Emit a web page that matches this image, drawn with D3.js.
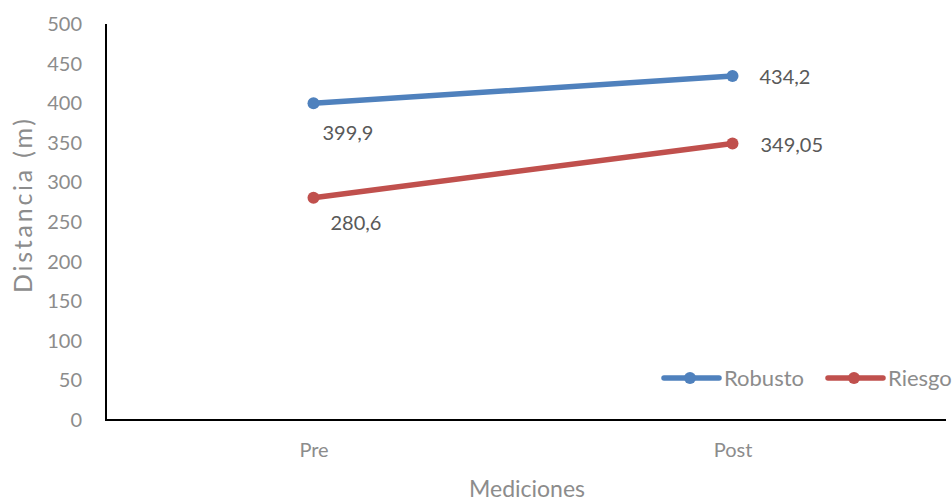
<!DOCTYPE html>
<html>
<head>
<meta charset="utf-8">
<script src="https://cdn.jsdelivr.net/npm/d3@7"></script>
<style>
  html, body { margin: 0; padding: 0; background: #fff; }
  svg { display: block; font-family: Lato, "Open Sans", sans-serif; }
</style>
</head>
<body>
<svg id="chart" width="952" height="501"></svg>
<script>
// Chart data
const categories = ["Pre", "Post"];
const seriesNames = ["Robusto", "Riesgo"];
const robusto = [399.9, 434.2];
const riesgo = [280.6, 349.05];
const robustoLabels = ["399,9", "434,2"];
const riesgoLabels = ["280,6", "349,05"];
const yTicks = [0, 50, 100, 150, 200, 250, 300, 350, 400, 450, 500];

const colors = { Robusto: "#4f81bd", Riesgo: "#c0504d" };
const series = [
  { name: seriesNames[0], values: robusto, labels: robustoLabels, labelOffsets: [[9, 37], [27, 8]] },
  { name: seriesNames[1], values: riesgo, labels: riesgoLabels, labelOffsets: [[17, 32], [28, 8]] }
];

const svg = d3.select("#chart");
const plotLeft = 106, plotRight = 946, plotTop = 24, plotBottom = 420;
const axisGrey = "#8c8c8c";

const x = d3.scalePoint().domain(categories).range([104, 942]).padding(0.5);
const y = d3.scaleLinear().domain([0, 500]).range([plotBottom, plotTop]);

// Y axis: tick labels only plus a solid axis line
const yAxis = svg.append("g").attr("transform", `translate(${plotLeft},0)`)
  .call(d3.axisLeft(y).tickValues(yTicks).tickSize(0).tickPadding(24));
yAxis.select(".domain").remove();
yAxis.selectAll("text").attr("fill", axisGrey).style("font-size", "20px")
  .style("font-family", "Lato, 'Open Sans', sans-serif");

// X axis
const xAxis = svg.append("g").attr("transform", `translate(0,${plotBottom})`)
  .call(d3.axisBottom(x).tickSize(0).tickPadding(23));
xAxis.select(".domain").remove();
xAxis.selectAll("text").attr("fill", axisGrey).style("font-size", "20px")
  .style("font-family", "Lato, 'Open Sans', sans-serif");

svg.append("path")
  .attr("d", `M${plotLeft},${plotTop} V${plotBottom} H${plotRight}`)
  .attr("fill", "none").attr("stroke", "#000").attr("stroke-width", 2);

// Axis titles
svg.append("text")
  .attr("transform", `translate(32,206) rotate(-90)`)
  .attr("text-anchor", "middle").attr("fill", axisGrey)
  .attr("textLength", 174).attr("lengthAdjust", "spacing")
  .style("font-size", "25px").text("Distancia (m)");
svg.append("text")
  .attr("x", 527).attr("y", 497)
  .attr("text-anchor", "middle").attr("fill", axisGrey)
  .style("font-size", "23px").text("Mediciones");

// Lines and markers
const line = d3.line().x((d, i) => x(categories[i])).y(d => y(d));
const g = svg.append("g");
series.forEach(s => {
  g.append("path").datum(s.values)
    .attr("d", line).attr("fill", "none")
    .attr("stroke", colors[s.name]).attr("stroke-width", 5.5)
    .attr("stroke-linecap", "round");
  g.selectAll(null).data(s.values).enter().append("circle")
    .attr("cx", (d, i) => x(categories[i])).attr("cy", d => y(d))
    .attr("r", 6).attr("fill", colors[s.name]);
});

// Value labels
series.forEach(s => {
  s.values.forEach((v, i) => {
    const [dx, dy] = s.labelOffsets[i];
    svg.append("text").attr("fill", "#595959").style("font-size", "20px")
      .attr("x", x(categories[i]) + dx).attr("y", y(v) + dy)
      .text(s.labels[i]);
  });
});

// Legend
const legendItems = [
  { name: "Robusto", x0: 664 },
  { name: "Riesgo", x0: 828 }
];
const ly = 378;
legendItems.forEach(it => {
  const lg = svg.append("g");
  lg.append("line").attr("x1", it.x0).attr("x2", it.x0 + 55)
    .attr("y1", ly).attr("y2", ly)
    .attr("stroke", colors[it.name]).attr("stroke-width", 5.5).attr("stroke-linecap", "round");
  lg.append("circle").attr("cx", it.x0 + 26).attr("cy", ly).attr("r", 6)
    .attr("fill", colors[it.name]);
  lg.append("text").attr("x", it.x0 + 60).attr("y", ly + 8)
    .attr("fill", axisGrey).style("font-size", "22px").text(it.name);
});
</script>
</body>
</html>
